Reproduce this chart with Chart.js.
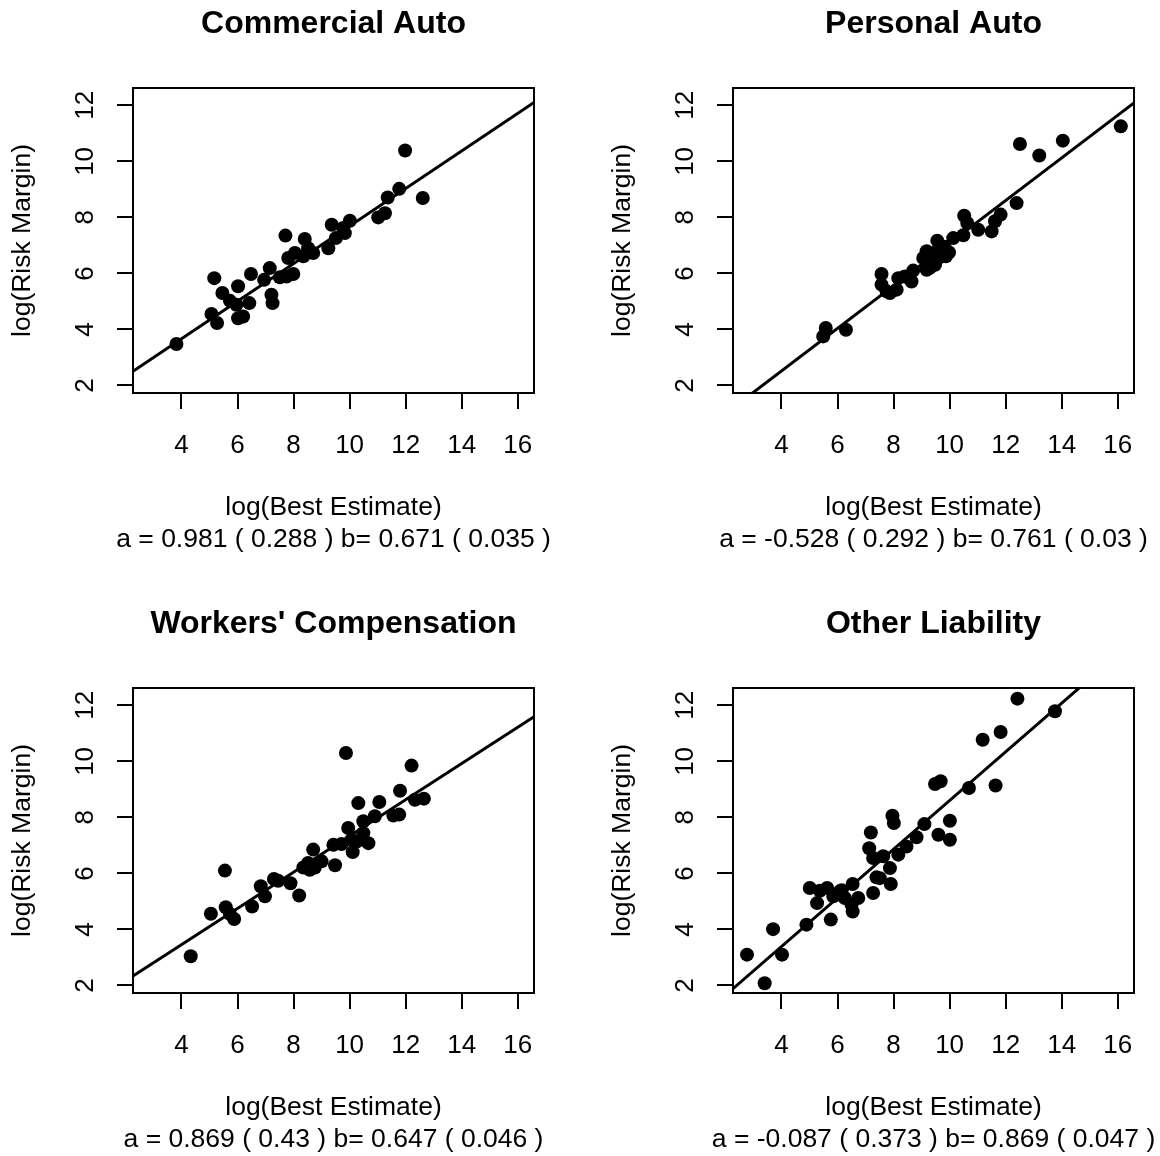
<!DOCTYPE html>
<html>
<head>
<meta charset="utf-8">
<script src="https://cdn.jsdelivr.net/npm/chart.js@4.4.1/dist/chart.umd.min.js"></script>
<style>
html, body { margin: 0; padding: 0; background: #fff; overflow: hidden; }
#wrap { position: relative; width: 1160px; height: 1156px; background: #fff; }
#wrap canvas { position: absolute; }
</style>
</head>
<body>
<div id="wrap">
  <canvas id="c0" width="560" height="556" style="left:0px;top:0px"></canvas>
  <canvas id="c1" width="560" height="556" style="left:600px;top:0px"></canvas>
  <canvas id="c2" width="560" height="556" style="left:0px;top:600px"></canvas>
  <canvas id="c3" width="560" height="556" style="left:600px;top:600px"></canvas>
</div>
<script>
// ---------- data ----------
const panelTitles = ["Commercial Auto", "Personal Auto", "Workers' Compensation", "Other Liability"];
const xAxisLabel = "log(Best Estimate)";
const yAxisLabel = "log(Risk Margin)";
const xTicks = [4, 6, 8, 10, 12, 14, 16];
const yTicks = [2, 4, 6, 8, 10, 12];
const xRange = [2.27, 16.58];
const yRange = [1.73, 12.62];

// regression coefficients: log(RM) = a + b * log(BE)
const coefA   = [0.981, -0.528, 0.869, -0.087];
const seA     = [0.288, 0.292, 0.43, 0.373];
const coefB   = [0.671, 0.761, 0.647, 0.869];
const seB     = [0.035, 0.03, 0.046, 0.047];

// Commercial Auto
const caX = [3.82, 5.07, 5.27, 5.17, 5.46, 5.73, 6.02, 5.96, 6.02, 6.20, 6.42, 6.48, 6.95, 7.15, 7.21, 7.25, 7.71, 7.81, 7.51, 7.75, 7.99, 8.05, 8.40, 8.35, 8.70, 9.24, 9.36, 9.51, 9.83, 10.01, 11.02, 11.26, 11.36, 11.77, 11.98, 12.61, 8.52, 9.77];
const caY = [3.48, 4.55, 4.23, 5.83, 5.30, 5.02, 5.54, 4.88, 4.40, 4.46, 4.94, 5.98, 5.77, 6.19, 5.24, 4.94, 7.35, 6.55, 5.86, 5.89, 5.98, 6.73, 7.23, 6.61, 6.73, 6.90, 7.74, 7.26, 7.44, 7.88, 8.00, 8.15, 8.71, 9.02, 10.39, 8.69, 6.90, 7.62];

// Personal Auto
const paX = [5.49, 5.58, 6.30, 7.57, 7.57, 7.75, 7.87, 8.11, 8.17, 8.40, 8.64, 8.70, 9.18, 9.18, 9.30, 9.48, 9.56, 9.65, 9.87, 9.60, 10.13, 10.49, 10.52, 10.63, 11.02, 11.50, 11.62, 11.82, 12.39, 12.51, 13.20, 14.04, 16.11, 9.06, 9.42, 9.30, 9.82, 9.98];
const paY = [3.75, 4.05, 3.99, 5.98, 5.60, 5.36, 5.30, 5.42, 5.83, 5.89, 5.71, 6.10, 6.13, 6.79, 6.43, 6.31, 7.17, 6.79, 6.61, 6.55, 7.26, 7.36, 8.06, 7.80, 7.56, 7.50, 7.86, 8.10, 8.51, 10.62, 10.21, 10.74, 11.25, 6.55, 6.73, 6.20, 6.95, 6.75];

// Workers' Compensation
const wcX = [4.33, 5.05, 5.55, 5.58, 5.88, 5.73, 6.52, 6.83, 6.98, 7.45, 7.89, 8.20, 8.35, 8.52, 8.70, 8.76, 9.00, 9.48, 9.42, 9.71, 9.87, 9.95, 10.07, 10.11, 10.31, 10.49, 10.67, 10.49, 10.90, 11.06, 11.56, 11.77, 11.80, 12.21, 12.33, 12.65, 8.58, 10.25, 7.30];
const wcY = [3.04, 4.56, 6.10, 4.79, 4.37, 4.55, 4.82, 5.54, 5.18, 5.74, 5.65, 5.21, 6.21, 6.37, 6.85, 6.21, 6.43, 6.29, 7.02, 7.05, 10.30, 7.62, 7.20, 6.76, 8.51, 7.86, 7.08, 7.44, 8.04, 8.55, 8.07, 8.10, 8.95, 9.85, 8.63, 8.67, 6.13, 7.14, 5.80];

// Other Liability
const olX = [2.77, 3.40, 3.70, 4.02, 4.89, 5.01, 5.27, 5.37, 5.63, 5.76, 5.85, 6.08, 6.26, 6.54, 6.50, 6.54, 6.74, 7.13, 7.19, 7.27, 7.27, 7.39, 7.63, 7.87, 7.90, 7.96, 8.01, 8.17, 8.46, 8.82, 9.10, 9.48, 9.68, 9.60, 10.01, 10.01, 10.69, 11.18, 11.64, 11.82, 12.42, 13.76, 7.51, 6.15];
const olY = [3.10, 2.08, 4.01, 3.10, 4.17, 5.48, 4.94, 5.38, 5.48, 4.35, 5.18, 5.36, 5.12, 5.62, 4.88, 4.64, 5.12, 6.90, 7.46, 6.55, 5.30, 5.86, 6.61, 6.19, 5.62, 8.06, 7.80, 6.67, 6.96, 7.29, 7.76, 9.19, 9.29, 7.38, 7.88, 7.20, 9.05, 10.77, 9.14, 11.05, 12.24, 11.79, 5.83, 5.40];

const seriesX = [caX, paX, wcX, olX];
const seriesY = [caY, paY, wcY, olY];

// ---------- rendering ----------
const FONT_FAMILY = "'Liberation Sans', Arial, Helvetica, sans-serif";
Chart.defaults.font.family = FONT_FAMILY;
Chart.defaults.color = '#000';

const plotBox = {
  id: 'plotBox',
  afterDatasetsDraw(chart) {
    const a = chart.chartArea;
    const ctx = chart.ctx;
    ctx.save();
    ctx.strokeStyle = '#000';
    ctx.lineWidth = 2;
    ctx.strokeRect(a.left, a.top, a.right - a.left, a.bottom - a.top);
    ctx.restore();
  }
};

// second line under the x-axis title (fit coefficients), drawn without width compression
const fitCaption = {
  id: 'fitCaption',
  afterDraw(chart, args, opts) {
    const a = chart.chartArea;
    const ctx = chart.ctx;
    ctx.save();
    ctx.fillStyle = '#000';
    ctx.font = '26.5px ' + FONT_FAMILY;
    ctx.textAlign = 'center';
    ctx.textBaseline = 'middle';
    ctx.fillText(opts.text, (a.left + a.right) / 2, chart.height - 16);
    ctx.restore();
  }
};

function caption(i) {
  return 'a = ' + coefA[i] + ' ( ' + seA[i] + ' ) b= ' + coefB[i] + ' ( ' + seB[i] + ' )';
}

for (let i = 0; i < 4; i++) {
  const pts = seriesX[i].map((x, k) => ({ x: x, y: seriesY[i][k] }));
  const fit = xRange.map(x => ({ x: x, y: coefA[i] + coefB[i] * x }));
  new Chart(document.getElementById('c' + i), {
    type: 'scatter',
    data: {
      datasets: [
        { data: fit, showLine: true, borderColor: '#000', borderWidth: 3, pointRadius: 0, pointHoverRadius: 0, clip: 0, order: 0 },
        { data: pts, backgroundColor: '#000', borderColor: '#000', borderWidth: 0, pointRadius: 7, pointHoverRadius: 7, order: 1 }
      ]
    },
    options: {
      responsive: false,
      animation: false,
      devicePixelRatio: 1,
      events: [],
      layout: { padding: { left: 0, right: 26, top: 0, bottom: 0 } },
      plugins: {
        legend: { display: false },
        tooltip: { enabled: false },
        title: {
          display: true, text: panelTitles[i], fullSize: false, color: '#000',
          font: { size: 32, weight: 'bold' },
          padding: { top: 4.6, bottom: 45 }
        },
        fitCaption: { text: caption(i) }
      },
      scales: {
        x: {
          type: 'linear', position: 'bottom', min: xRange[0], max: xRange[1],
          afterBuildTicks: s => { s.ticks = xTicks.map(v => ({ value: v })); },
          afterFit: s => { s.height = 163; },
          ticks: { color: '#000', font: { size: 26 }, padding: 21, maxRotation: 0, minRotation: 0, autoSkip: false },
          grid: { display: true, drawOnChartArea: false, drawTicks: true, tickLength: 16, color: '#000', lineWidth: 2 },
          border: { display: false },
          title: { display: true, text: xAxisLabel, color: '#000', font: { size: 26.5, lineHeight: '32px' }, padding: { top: 0, bottom: 32 } }
        },
        y: {
          type: 'linear', position: 'left', min: yRange[0], max: yRange[1],
          afterBuildTicks: s => { s.ticks = yTicks.map(v => ({ value: v })); },
          afterFit: s => { s.width = 133; },
          ticks: { color: '#000', font: { size: 26 }, padding: 16.5, minRotation: 90, maxRotation: 90, crossAlign: 'center', autoSkip: false },
          grid: { display: true, drawOnChartArea: false, drawTicks: true, tickLength: 16, color: '#000', lineWidth: 2 },
          border: { display: false },
          title: { display: true, text: yAxisLabel, color: '#000', font: { size: 26.5, lineHeight: '32px' }, padding: { top: 7, bottom: 0 } }
        }
      }
    },
    plugins: [plotBox, fitCaption]
  });
}
</script>
</body>
</html>
